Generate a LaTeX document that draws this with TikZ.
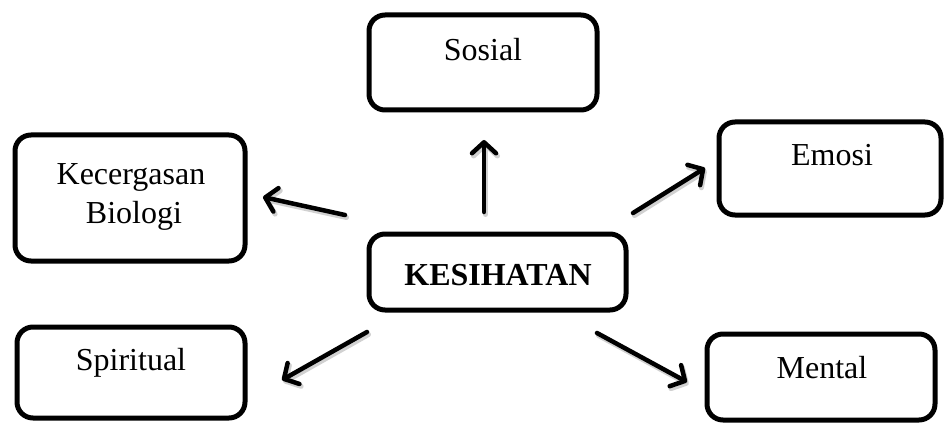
\documentclass[tikz,border=0pt]{standalone}
\usepackage{fontspec}
\setmainfont{Liberation Serif}
\usetikzlibrary{arrows.meta}
\begin{document}
\begin{tikzpicture}[x=1pt,y=-1pt,
  box/.style={draw=black, line width=5pt, rounded corners=16pt, rectangle, inner sep=0pt, fill=white},
  lbl/.style={anchor=base, inner sep=0pt, font=\fontsize{32}{38}\selectfont},
  arr/.style={line width=4.5pt, -{Straight Barb[length=11pt,width=24pt,line cap=round,line join=round]}, line cap=round},
  shd/.style={line width=5pt, draw=black!18, line cap=round, -{Straight Barb[length=11pt,width=24pt,line cap=round,line join=round]}}
]
\useasboundingbox (0,0) rectangle (945,425);
% boxes
\node[box, minimum width=228pt, minimum height=95pt] (sos) at (483,62.5) {};
\node[box, minimum width=230pt, minimum height=126pt] (kec) at (130,198) {};
\node[box, minimum width=257pt, minimum height=76pt] (kes) at (497.5,272) {};
\node[box, minimum width=222pt, minimum height=93pt] (emo) at (830,168.5) {};
\node[box, minimum width=228pt, minimum height=91pt] (spi) at (131,372.5) {};
\node[box, minimum width=228pt, minimum height=86pt] (men) at (821,377) {};
% texts
\node[lbl] (tsos) at (483,61) {Sosial};
\node[lbl] (tkec1) at (131,184) {Kecergasan};
\node[lbl] (tkec2) at (134,223) {Biologi};
\node[lbl, font=\fontsize{32}{38}\selectfont\bfseries] (tkes) at (498,285) {KESIHATAN};
\node[lbl] (temo) at (832,165) {Emosi};
\node[lbl] (tspi) at (131,370) {Spiritual};
\node[lbl] (tmen) at (822,378) {Mental};
% arrow end points
\coordinate (a1s) at (484,212); \coordinate (a1e) at (484,140);
\coordinate (a2s) at (345,215); \coordinate (a2e) at (263,197);
\coordinate (a3s) at (633,213); \coordinate (a3e) at (705,168);
\coordinate (a4s) at (367,332); \coordinate (a4e) at (282,380);
\coordinate (a5s) at (597,333); \coordinate (a5e) at (687,382);
% shadows
\foreach \s/\e in {a1s/a1e,a2s/a2e,a3s/a3e,a4s/a4e,a5s/a5e}{
  \draw[shd, transform canvas={xshift=1.5pt,yshift=-2.5pt}] (\s) -- (\e);
}
% arrows
\foreach \s/\e in {a1s/a1e,a2s/a2e,a3s/a3e,a4s/a4e,a5s/a5e}{
  \draw[arr] (\s) -- (\e);
}
\end{tikzpicture}
\end{document}
